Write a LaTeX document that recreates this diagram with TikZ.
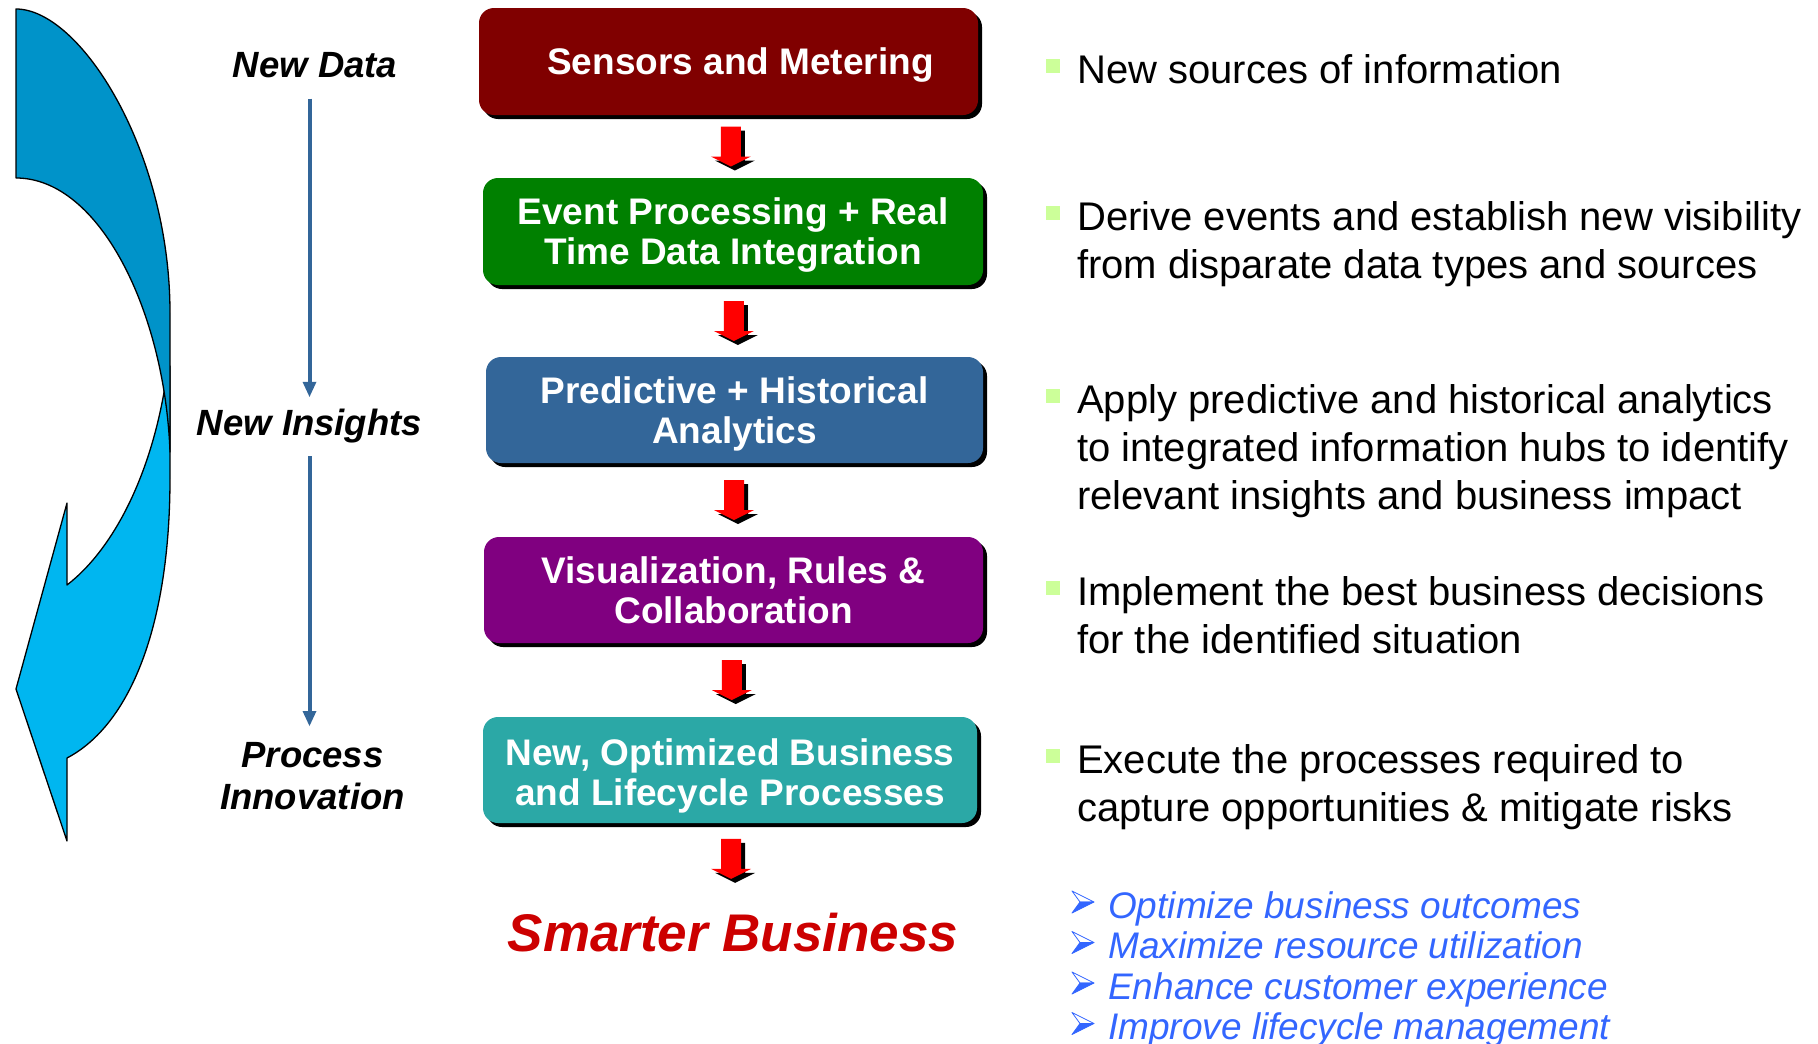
\documentclass[tikz,border=0pt]{standalone}
\usepackage{fontspec}
\setmainfont{Liberation Sans}
\usepackage{graphicx}
\usetikzlibrary{arrows.meta,calc,shadows}

\definecolor{cSens}{RGB}{128,0,0}
\definecolor{cEvent}{RGB}{0,128,0}
\definecolor{cPred}{RGB}{51,102,153}
\definecolor{cVis}{RGB}{128,0,128}
\definecolor{cProc}{RGB}{43,168,166}
\definecolor{ribDark}{RGB}{0,147,201}
\definecolor{ribLight}{RGB}{0,182,240}
\definecolor{flowBlue}{RGB}{51,102,153}
\definecolor{bulGreen}{RGB}{204,255,153}
\definecolor{listBlue}{RGB}{51,102,255}
\definecolor{smartRed}{RGB}{204,0,0}

% block arrow centred at a point (y runs downwards)
\newcommand\blockarrow[1]{%
  \begin{scope}[shift={#1}]
    \fill[black,shift={(4,4)}] (-10,-20) -- (10,-20) -- (10,10) -- (20,10) -- (0,20) -- (-20,10) -- (-10,10) -- cycle;
    \fill[red] (-10,-20) -- (10,-20) -- (10,10) -- (20,10) -- (0,20) -- (-20,10) -- (-10,10) -- cycle;
  \end{scope}}

% arrowhead bullet in front of a node
\newcommand\listbullet[1]{%
  \begin{scope}[shift={(#1.base west)}]
    \filldraw[draw=listBlue, fill=white, line width=0.8pt, line join=round] (-36,-27) -- (-14,-16) -- (-28,-16) -- cycle;
    \filldraw[draw=listBlue, fill=listBlue, line width=0.8pt, line join=round] (-28,-16) -- (-14,-16) -- (-36,-5) -- cycle;
  \end{scope}}

% square bullet; #2 = number of lines below the first one
\newcommand\squarebullet[2]{%
  \fill[bulGreen] ($(#1.base west)+(-31,{-24-48*#2})$) rectangle ++(14,14);}

\tikzset{
  stepbox/.style={rounded corners=15pt, minimum width=497pt, minimum height=106pt,
    inner sep=0pt, text=white, align=center, text depth=0pt,
    font=\fontsize{37}{40}\selectfont\bfseries,
    drop shadow={shadow xshift=4pt, shadow yshift=-4pt, fill=black, opacity=1}},
  flowlabel/.style={font=\fontsize{36.5}{42}\selectfont\bfseries\itshape, inner sep=0pt, align=center},
  flowarrow/.style={draw=flowBlue, line width=4pt, -{Triangle[width=14pt,length=15pt,line width=0pt]}},
  desc/.style={font=\fontsize{40}{48}\selectfont, inner sep=0pt, align=left, anchor=base west},
  outcome/.style={font=\fontsize{37}{41}\selectfont\itshape, text=listBlue, inner sep=0pt, anchor=base west},
  ribbon/.style={draw=black, line width=1.3pt, line join=round}
}

\begin{document}
\begin{tikzpicture}[x=1pt, y=-1pt]
\useasboundingbox (0,0) rectangle (1818,1044);

% curved ribbon arrow
\path[ribbon, fill=ribLight] (67,585) .. controls (115,548) and (155,469) .. (168,366)
  -- (170,366) -- (170,478) .. controls (170,626) and (130,725) .. (67,758)
  -- (67,841) -- (16,689) -- (67,503) -- cycle;
\path[ribbon, fill=ribDark] (16,9) .. controls (80,9) and (170,150) .. (170,313)
  -- (170,452) .. controls (165,313) and (100,178) .. (16,178) -- cycle;

% left labels
\node[flowlabel, anchor=base] (nd) at (315,77) {New Data};
\node[flowlabel, anchor=base] (ni) at (309.5,435) {New Insights};
\node[flowlabel, anchor=north] (pi) at (312.5,742) {Process\\Innovation};
\draw[flowarrow, shorten <=21pt, shorten >=11.5pt] (ni.north |- nd.south) -- (ni.north);
\draw[flowarrow, shorten <=13.5pt, shorten >=16pt] (ni.south) -- (ni.south |- pi.north);

% boxes
\node[stepbox, fill=cSens, minimum width=499pt, minimum height=107pt] (b1) at (728.5,61.5) {\hspace*{24pt}Sensors and Metering};
\node[stepbox, fill=cEvent, minimum width=500pt, minimum height=107pt] (b2) at (733,231.5) {Event Processing + Real\\Time Data Integration};
\node[stepbox, fill=cPred] (b3) at (734.5,410) {Predictive + Historical\\Analytics};
\node[stepbox, fill=cVis, minimum width=499pt] (b4) at (733.5,590) {Visualization, Rules \&\\Collaboration};
\node[stepbox, fill=cProc, minimum width=494pt] (b5) at (730,770) {\raisebox{-4.5pt}{New, Optimized Business}\\\raisebox{-4.5pt}{and Lifecycle Processes}};

\node[font=\fontsize{53}{60}\selectfont\bfseries\itshape, text=smartRed, inner sep=0pt, anchor=base] (sb) at (733,951) {Smarter Business};

% red block arrows between the boxes
\blockarrow{($(b1.south)!0.5!(b2.north)$)}
\blockarrow{($(b2.south)!0.5!(b3.north)$)}
\blockarrow{($(b3.south)!0.5!(b4.north)$)}
\blockarrow{($(b4.south)!0.5!(b5.north)$)}
\blockarrow{($(b5.south)!0.4!(sb.north)$)}

% right descriptions (anchored at the baseline of their last line)
\node[desc] (r1) at (1077,83) {New sources of information};
\node[desc] (r2) at (1077,278) {Derive events and establish new visibility\\from disparate data types and sources};
\node[desc] (r3) at (1077,509) {Apply predictive and historical analytics\\to integrated information hubs to identify\\relevant insights and business impact};
\node[desc] (r4) at (1077,653) {Implement the best business decisions\\for the identified situation};
\node[desc] (r5) at (1077,821) {Execute the processes required to\\capture opportunities \& mitigate risks};
\squarebullet{r1}{0}
\squarebullet{r2}{1}
\squarebullet{r3}{2}
\squarebullet{r4}{1}
\squarebullet{r5}{1}

% outcomes
\node[outcome] (o1) at (1108,918) {Optimize business outcomes};
\node[outcome] (o2) at (1108,958.5) {Maximize resource utilization};
\node[outcome] (o3) at (1108,999) {Enhance customer experience};
\node[outcome] (o4) at (1108,1039.5) {Improve lifecycle management};
\listbullet{o1}
\listbullet{o2}
\listbullet{o3}
\listbullet{o4}
\end{tikzpicture}
\end{document}
